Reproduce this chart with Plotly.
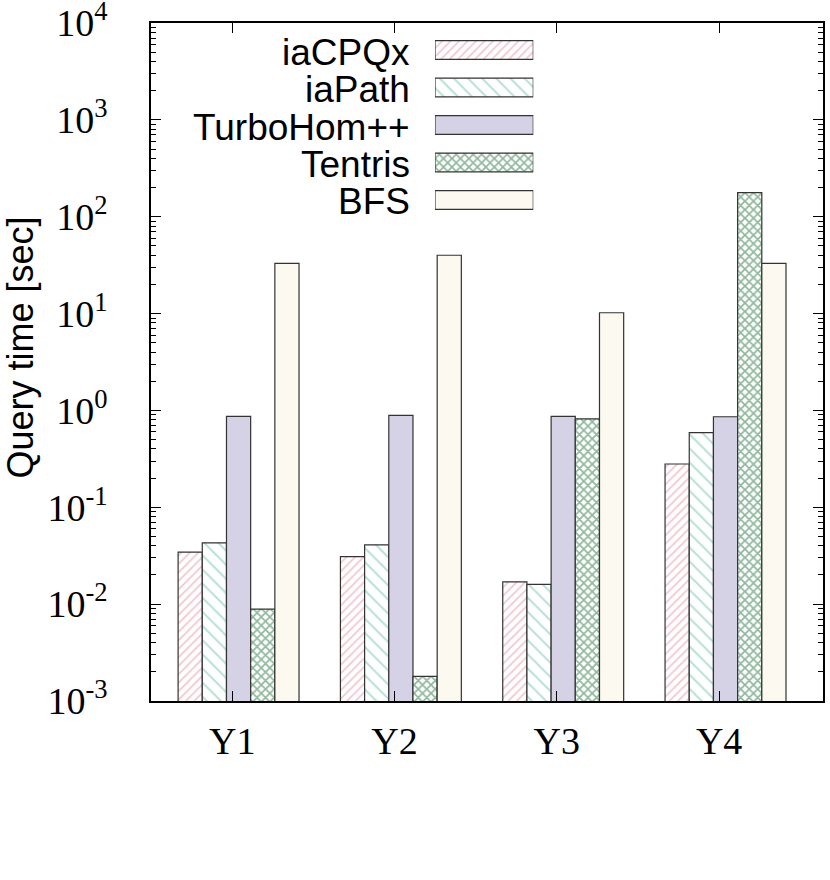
"""Query time per workload, grouped bars on a log axis."""

import plotly.graph_objects as go

QUERIES = ["Y1", "Y2", "Y3", "Y4"]
METHODS = ["iaCPQx", "iaPath", "TurboHom++", "Tentris", "BFS"]

IACPQX = [0.0345, 0.031, 0.017, 0.28]
IAPATH = [0.043, 0.041, 0.016, 0.59]
TURBOHOM = [0.87, 0.89, 0.87, 0.86]
TENTRIS = [0.0089, 0.0018, 0.82, 177]
BFS = [33, 40, 10.2, 33]

Y_TICKS = [1e-3, 1e-2, 1e-1, 1e0, 1e1, 1e2, 1e3, 1e4]
Y_TICK_TEXT = ["10<sup>-3</sup>", "10<sup>-2</sup>", "10<sup>-1</sup>", "10<sup>0</sup>",
               "10<sup>1</sup>", "10<sup>2</sup>", "10<sup>3</sup>", "10<sup>4</sup>"]

SERIES = [IACPQX, IAPATH, TURBOHOM, TENTRIS, BFS]

STYLES = [
    dict(shape="/", fg="#e58da2", bg="#ffffff", size=6, solidity=0.28),
    dict(shape="\\", fg="#6cc4ae", bg="#ffffff", size=10, solidity=0.2),
    dict(shape="", fg="#d5d2e6", bg="#d5d2e6", size=8, solidity=0.3),
    dict(shape="x", fg="#1d7038", bg="#ffffff", size=6, solidity=0.48),
    dict(shape="", fg="#fcf9f1", bg="#fcf9f1", size=8, solidity=0.3),
]

BAR_W = 0.149
FIRST_OFFSET = -0.333
EDGE = dict(color="#333333", width=1.2)

fig = go.Figure()
xs = list(range(len(QUERIES)))

for k, (name, values, st) in enumerate(zip(METHODS, SERIES, STYLES)):
    pattern = dict(shape=st["shape"], fgcolor=st["fg"], bgcolor=st["bg"],
                   size=st["size"], solidity=st["solidity"], fillmode="overlay")
    fig.add_trace(go.Bar(
        x=xs, y=values, name=name, width=BAR_W, offset=FIRST_OFFSET + k * BAR_W,
        marker=dict(color=st["bg"], line=EDGE, pattern=pattern),
        showlegend=False,
    ))
    # hand-made key swatch, gnuplot style (label on the left)
    fig.add_trace(go.Bar(
        x=[1], y=[k], base=[0], orientation="h", width=0.5,
        marker=dict(color=st["bg"], line=EDGE, pattern=pattern),
        xaxis="x2", yaxis="y2", showlegend=False, hoverinfo="skip",
    ))
    fig.add_annotation(
        x=0.388, y=k, xref="paper", yref="y2", text=name, showarrow=False,
        xanchor="right", yanchor="middle", yshift=-2,
        font=dict(family="Liberation Sans", size=37, color="#000000"),
    )

fig.add_annotation(
    x=-0.1935, y=0.5214, xref="paper", yref="paper", text="Query time [sec]",
    textangle=-90, showarrow=False, xanchor="center", yanchor="middle",
    font=dict(family="Liberation Sans", size=36, color="#000000"),
)

minor_vals = [m * 10.0 ** e for e in range(-3, 4) for m in range(2, 10)]

fig.update_layout(
    width=830, height=880,
    margin=dict(l=151, r=7, t=23, b=179),
    paper_bgcolor="white", plot_bgcolor="white",
    barmode="overlay",
    xaxis=dict(
        range=[-0.5, 3.64], tickvals=xs, ticktext=QUERIES,
        ticks="inside", ticklen=10, tickcolor="#000000", mirror="ticks",
        showline=True, linecolor="#000000", linewidth=1.5, showgrid=False, zeroline=False,
        tickfont=dict(family="Liberation Serif", size=38, color="#000000"),
        ticklabelstandoff=6, automargin=False,
    ),
    yaxis=dict(
        type="log", range=[-3, 4], tickvals=Y_TICKS, ticktext=Y_TICK_TEXT,
        ticks="inside", ticklen=10, tickcolor="#000000", mirror="ticks",
        showline=True, linecolor="#000000", linewidth=1.5, showgrid=False, zeroline=False,
        tickfont=dict(family="Liberation Serif", size=38, color="#000000"),
        ticklabelstandoff=34, automargin=False, ticklabeloverflow="allow",
        minor=dict(tickvals=minor_vals, ticks="inside", ticklen=5, tickcolor="#000000", showgrid=False),
    ),
    xaxis2=dict(domain=[0.4226, 0.5689], range=[0, 1], visible=False, anchor="y2", fixedrange=True),
    yaxis2=dict(domain=[0.7113, 0.9878], range=[4.5, -0.5], visible=False, anchor="x2", fixedrange=True),
)

# drop the browser's default 8px body margin so the figure sits at the page corner
fig.write_html(
    "out.html",
    config={"displayModeBar": False},
    post_script="document.body.style.margin = '0';",
)
